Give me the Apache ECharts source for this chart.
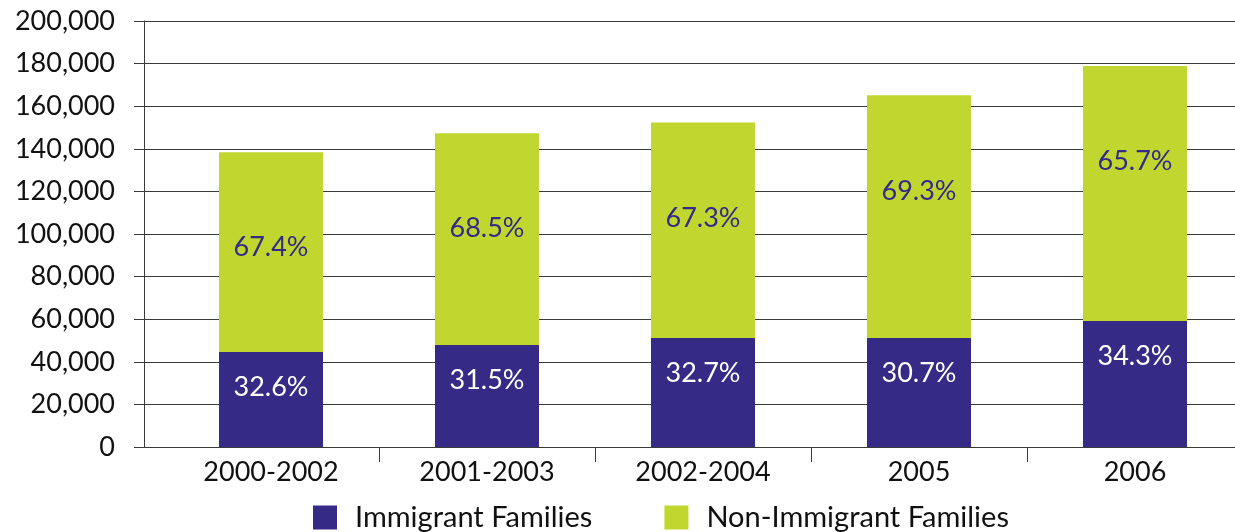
<!DOCTYPE html>
<html><head><meta charset="utf-8">
<script src="https://cdn.jsdelivr.net/npm/echarts@6/dist/echarts.min.js"></script>
<style>html,body{margin:0;padding:0;background:#fff;overflow:hidden;width:1235px;height:532px}#c{width:1243px;height:532px}</style>
</head><body><div id="c"></div>
<script>
const categories = ['2000-2002','2001-2003','2002-2004','2005','2006'];
const immigrant = [44600, 47900, 51200, 51200, 59200];
const nonImmigrant = [93800, 99400, 101200, 113900, 119700];
const immigrantPct = ['32.6%','31.5%','32.7%','30.7%','34.3%'];
const nonImmigrantPct = ['67.4%','68.5%','67.3%','69.3%','65.7%'];
const seriesNames = ['Immigrant Families','Non-Immigrant Families'];

const FONT = 'Lato';
const NAVY = '#352a86';
const GREEN = '#c1d72f';
const LINE = '#3a3a3a';

const chart = echarts.init(document.getElementById('c'), null, {renderer:'canvas'});
chart.setOption({
  animation: false,
  textStyle: {fontFamily: FONT},
  grid: {left: 163, right: 0, top: 21, bottom: 85, containLabel: false},
  legend: {
    left: 308, top: 498, itemWidth: 24, itemHeight: 24, itemGap: 72,
    icon: 'rect',
    textStyle: {fontFamily: FONT, fontSize: 29, color: '#111', padding: [0,0,0,13]},
    data: seriesNames
  },
  xAxis: {
    type: 'category', data: categories,
    axisLine: {show: true, lineStyle: {color: LINE, width: 1}},
    axisTick: {show: true, length: 15, lineStyle: {color: LINE}, interval: i => i !== 0},
    axisLabel: {fontFamily: FONT, fontSize: 27, color: '#111', margin: 12}
  },
  yAxis: [{
    type: 'value', min: 0, max: 200000, interval: 20000,
    axisLine: {show: false},
    axisTick: {show: true, length: 29, lineStyle: {color: LINE}},
    splitLine: {show: true, lineStyle: {color: LINE, width: 1}},
    axisLabel: {fontFamily: FONT, fontSize: 27, color: '#111', margin: 48,
      formatter: v => v.toLocaleString('en-US')}
  },{
    type: 'value', min: 0, max: 200000, interval: 20000, position: 'left', offset: 19,
    axisLine: {show: true, lineStyle: {color: LINE, width: 1}},
    axisTick: {show: false}, splitLine: {show: false}, axisLabel: {show: false}
  }],
  series: [{
    name: seriesNames[0], type: 'bar', stack: 'total', barWidth: 104,
    itemStyle: {color: NAVY},
    data: immigrant,
    label: {show: true, position: 'insideTop', distance: 22, fontFamily: FONT, fontSize: 27, color: '#fff',
      formatter: p => immigrantPct[p.dataIndex]}
  },{
    name: seriesNames[1], type: 'bar', stack: 'total', barWidth: 104,
    itemStyle: {color: GREEN},
    data: nonImmigrant,
    label: {show: true, position: 'insideTop', distance: 82, fontFamily: FONT, fontSize: 27, color: NAVY,
      formatter: p => nonImmigrantPct[p.dataIndex]}
  }]
});
</script></body></html>
